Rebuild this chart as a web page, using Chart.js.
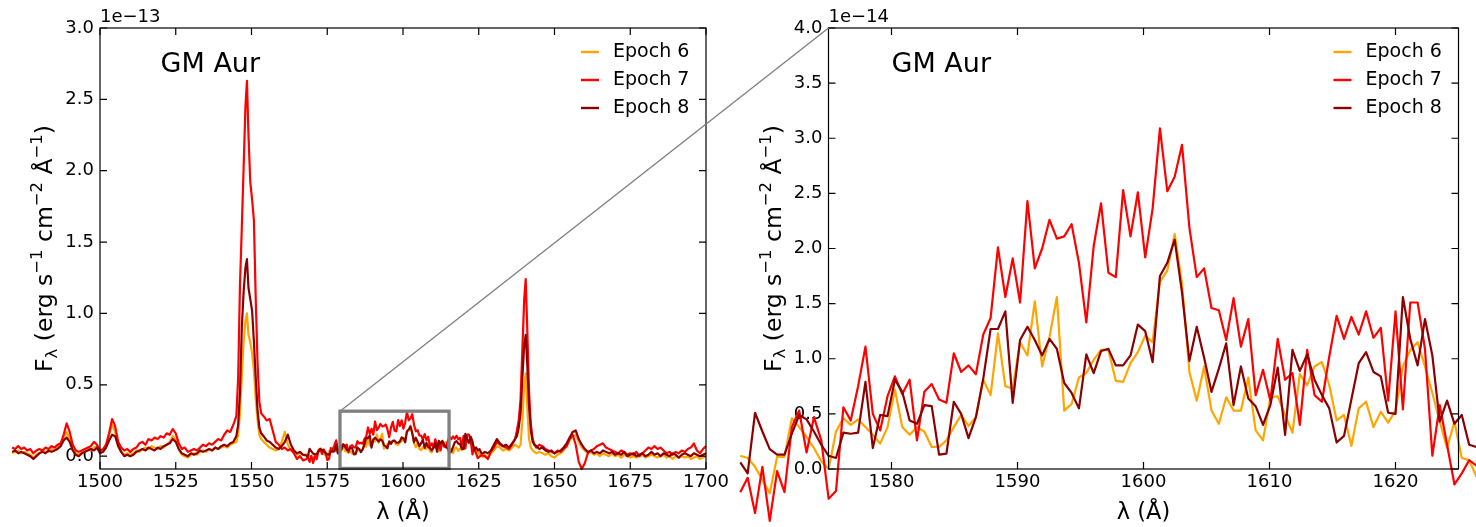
<!DOCTYPE html>
<html>
<head>
<meta charset="utf-8">
<script src="https://cdn.jsdelivr.net/npm/chart.js@4.4.0/dist/chart.umd.min.js"></script>
<style>
  html, body { margin: 0; padding: 0; background: #fff; }
  #wrap { position: relative; width: 1476px; height: 527px; overflow: hidden; }
  canvas { position: absolute; left: 0; top: 0; }
</style>
</head>
<body>
<div id="wrap">
  <canvas id="left" width="1476" height="527"></canvas>
  <canvas id="right" width="1476" height="527"></canvas>
  <canvas id="inset" width="1476" height="527"></canvas>
</div>
<script>
// ---- data -------------------------------------------------------------
const seriesNames = ['Epoch 6', 'Epoch 7', 'Epoch 8'];
const seriesColors = ['#ffa500', '#ff0000', '#8b0000'];

// zoomed window (right panel), flux in 1e-14
const zoomStart = 1568.0, zoomStep = 0.5843;
const zoomE6 = [0.12, 0.10, 0.02, -0.10, -0.22, 0.11, 0.11, 0.46, 0.38, 0.29,
  0.19, 0.07, 0.00, 0.34, 0.46, 0.40, 0.45, 0.38, 0.31, 0.23,
  0.38, 0.72, 0.38, 0.31, 0.38, 0.34, 0.20, 0.20, 0.26, 0.38,
  0.49, 0.39, 0.47, 0.81, 0.67, 1.23, 0.75, 0.73, 1.15, 1.03,
  1.52, 0.93, 1.20, 1.56, 0.53, 0.59, 0.83, 0.87, 0.99, 1.08,
  1.08, 0.80, 0.79, 0.96, 1.06, 1.21, 1.15, 1.70, 1.80, 2.13,
  1.68, 0.88, 0.62, 0.93, 0.53, 0.41, 0.65, 0.53, 0.53, 0.83,
  0.35, 0.26, 0.65, 0.66, 0.49, 0.33, 0.86, 0.76, 0.93, 0.97,
  0.76, 0.44, 0.49, 0.21, 0.55, 0.61, 0.38, 0.52, 0.42, 0.53,
  0.93, 1.08, 1.15, 0.93, 0.69, 0.43, 0.19, 0.43, 0.10, 0.08,
  -0.07];
const zoomE7 = [-0.21, -0.08, -0.40, 0.02, -0.47, -0.02, -0.21, 0.38, 0.53, 0.15,
  0.47, 0.26, -0.27, -0.20, 0.56, 0.44, 0.75, 1.11, 0.50, 0.35,
  0.66, 0.84, 0.68, 0.81, 0.26, 0.70, 0.77, 0.63, 0.60, 1.05,
  0.88, 0.94, 0.86, 1.22, 1.37, 2.01, 1.56, 1.91, 1.51, 2.43,
  1.82, 2.00, 2.26, 2.09, 2.11, 2.22, 1.87, 1.33, 2.02, 2.41,
  1.78, 1.74, 2.53, 2.11, 2.51, 1.92, 2.36, 3.09, 2.52, 2.65,
  2.94, 2.19, 1.74, 1.82, 1.46, 1.44, 1.17, 1.55, 1.11, 1.36,
  0.67, 0.90, 0.62, 1.18, 0.81, 0.87, 0.40, 1.08, 0.67, 0.61,
  1.02, 1.39, 1.18, 1.38, 1.22, 1.43, 1.19, 1.28, 0.62, 1.43,
  0.54, 1.51, 1.51, 1.09, 0.12, 0.58, 0.22, -0.14, -0.04, 0.08,
  0.03];
const zoomE8 = [0.06, -0.04, 0.51, 0.34, 0.18, 0.13, 0.13, 0.32, 0.49, 0.45,
  0.34, 0.22, 0.12, 0.10, 0.33, 0.32, 0.33, 0.79, 0.19, 0.49,
  0.48, 0.81, 0.70, 0.44, 0.41, 0.58, 0.57, 0.13, 0.14, 0.61,
  0.50, 0.28, 0.47, 0.82, 1.27, 1.27, 1.43, 0.60, 1.17, 1.29,
  1.17, 1.03, 1.18, 1.09, 0.78, 0.69, 0.55, 1.04, 0.87, 1.07,
  1.09, 0.94, 0.94, 1.03, 1.31, 1.25, 0.97, 1.75, 1.87, 2.08,
  1.60, 0.98, 1.29, 1.01, 0.70, 0.91, 1.14, 0.58, 0.93, 0.64,
  0.57, 0.40, 0.58, 0.92, 0.31, 1.08, 0.89, 1.04, 0.81, 0.67,
  0.55, 0.24, 0.30, 0.63, 0.96, 1.06, 0.88, 0.84, 0.51, 0.50,
  1.56, 1.18, 0.94, 1.36, 1.03, 0.43, 0.62, 0.41, 0.49, 0.22,
  0.20];

// blue side of the full spectrum (left panel), flux in 1e-13
const blueWave = [1471, 1472, 1473, 1474, 1475, 1476, 1477, 1478, 1479, 1480,
  1481, 1482, 1483, 1484, 1485, 1486, 1487, 1488, 1489, 1490,
  1491, 1492, 1493, 1494, 1495, 1496, 1497, 1498, 1499, 1500,
  1501, 1502, 1503, 1504, 1505, 1506, 1507, 1508, 1509, 1510,
  1511, 1512, 1513, 1514, 1515, 1516, 1517, 1518, 1519, 1520,
  1521, 1522, 1523, 1524, 1525, 1526, 1527, 1528, 1529, 1530,
  1531, 1532, 1533, 1534, 1535, 1536, 1537, 1538, 1539, 1540,
  1541, 1542, 1543, 1544, 1545,
  1545.6, 1546.2, 1546.8, 1547.4, 1548.0, 1548.5, 1549.0, 1549.6, 1550.2, 1550.8, 1551.4, 1552.0, 1552.6, 1553.2,
  1554, 1555, 1556, 1557, 1558, 1559, 1560, 1561, 1562, 1563, 1564, 1565, 1566, 1567];
const blueE6 = [0.02, 0.03, 0.04, 0.02, 0.03, 0.02, 0.01, -0.01, 0.01, 0.02,
  0.04, 0.03, 0.03, 0.05, 0.04, 0.06, 0.08, 0.13, 0.17, 0.12,
  0.05, 0.02, 0.01, 0.02, 0.04, 0.05, 0.04, 0.06, 0.07, 0.03,
  0.04, 0.08, 0.15, 0.22, 0.17, 0.08, 0.03, 0.01, 0.02, 0.01,
  0.02, 0.04, 0.03, 0.05, 0.06, 0.05, 0.07, 0.06, 0.05, 0.07,
  0.06, 0.08, 0.10, 0.14, 0.12, 0.05, 0.01, 0.00, -0.01, 0.01,
  0.02, 0.01, 0.03, 0.04, 0.03, 0.05, 0.04, 0.06, 0.05, 0.06,
  0.07, 0.06, 0.08, 0.09, 0.10,
  0.15, 0.30, 0.55, 0.80, 0.95, 1.00, 0.85, 0.80, 0.72, 0.60, 0.40, 0.25, 0.15, 0.12,
  0.10, 0.08, 0.06, 0.05, 0.04, 0.05, 0.10, 0.17, 0.08, 0.04, 0.03, 0.01, 0.02, 0.01];
const blueE7 = [0.06, 0.05, 0.07, 0.05, 0.06, 0.04, 0.05, 0.02, 0.04, 0.05,
  0.04, 0.06, 0.05, 0.07, 0.06, 0.08, 0.09, 0.15, 0.23, 0.17,
  0.08, 0.04, 0.03, 0.04, 0.05, 0.06, 0.07, 0.10, 0.08, 0.04,
  0.05, 0.08, 0.16, 0.26, 0.21, 0.10, 0.06, 0.04, 0.05, 0.03,
  0.05, 0.06, 0.09, 0.10, 0.08, 0.12, 0.11, 0.13, 0.12, 0.14,
  0.13, 0.16, 0.15, 0.19, 0.16, 0.09, 0.05, 0.06, 0.03, 0.04,
  0.05, 0.04, 0.06, 0.08, 0.07, 0.09, 0.08, 0.10, 0.12, 0.11,
  0.15, 0.18, 0.17, 0.22, 0.28,
  0.55, 1.20, 1.60, 2.02, 2.45, 2.63, 2.25, 1.92, 1.80, 1.65, 1.10, 0.65, 0.38, 0.30,
  0.28, 0.25, 0.26, 0.18, 0.10, 0.08, 0.05, 0.06, 0.04, 0.05, 0.02, -0.02, 0.00, -0.03];
const blueE8 = [0.03, 0.04, 0.02, 0.03, 0.02, 0.01, 0.00, -0.02, 0.00, 0.02,
  0.03, 0.02, 0.04, 0.03, 0.04, 0.05, 0.07, 0.11, 0.13, 0.10,
  0.04, 0.01, 0.00, 0.02, 0.03, 0.04, 0.05, 0.04, 0.06, 0.02,
  0.03, 0.06, 0.11, 0.15, 0.14, 0.07, 0.03, 0.00, 0.01, 0.00,
  0.01, 0.03, 0.04, 0.05, 0.04, 0.06, 0.05, 0.04, 0.06, 0.05,
  0.07, 0.08, 0.09, 0.12, 0.10, 0.05, 0.02, 0.01, 0.00, 0.02,
  0.01, 0.02, 0.04, 0.03, 0.04, 0.05, 0.04, 0.06, 0.05, 0.07,
  0.08, 0.07, 0.09, 0.10, 0.14,
  0.22, 0.45, 0.90, 1.15, 1.32, 1.38, 1.18, 1.10, 1.02, 0.80, 0.55, 0.32, 0.20, 0.16,
  0.14, 0.11, 0.10, 0.08, 0.06, 0.05, 0.07, 0.10, 0.15, 0.08, 0.04, 0.02, 0.03, 0.01];

// red side of the full spectrum (left panel), flux in 1e-13
const redWave = [1627, 1628, 1629, 1630, 1631, 1632, 1633, 1634, 1635, 1636, 1637,
  1637.6, 1638.2, 1638.8, 1639.4, 1640.0, 1640.5, 1641.0, 1641.6, 1642.2, 1642.8, 1643.4,
  1644, 1645, 1646, 1647, 1648, 1649, 1650, 1651, 1652, 1653,
  1654, 1655, 1656, 1657, 1658, 1659, 1660, 1661, 1662, 1663,
  1664, 1665, 1666, 1667, 1668, 1669, 1670, 1671, 1672, 1673,
  1674, 1675, 1676, 1677, 1678, 1679, 1680, 1681, 1682, 1683,
  1684, 1685, 1686, 1687, 1688, 1689, 1690, 1691, 1692, 1693,
  1694, 1695, 1696, 1697, 1698, 1699, 1700];
const redE6 = [0.01, -0.01, 0.02, 0.04, 0.07, 0.06, 0.04, 0.05, 0.04, 0.06, 0.08,
  0.07, 0.06, 0.08, 0.25, 0.50, 0.58, 0.35, 0.12, 0.06, 0.04, 0.03,
  0.02, 0.03, 0.02, 0.01, 0.02, 0.00, -0.01, 0.01, 0.02, 0.04,
  0.07, 0.11, 0.14, 0.15, 0.10, 0.06, 0.04, 0.02, 0.03, 0.01,
  0.02, 0.00, 0.02, 0.01, 0.00, 0.02, 0.00, 0.01, -0.01, 0.01,
  0.00, -0.01, 0.00, -0.01, 0.00, 0.01, -0.01, 0.00, 0.01, 0.00,
  -0.01, 0.00, 0.01, -0.01, 0.00, -0.02, 0.00, -0.01, 0.00, -0.01,
  0.00, -0.02, -0.01, 0.00, -0.02, -0.01, 0.00];
const redE7 = [0.00, -0.02, 0.03, 0.06, 0.10, 0.08, 0.07, 0.06, 0.05, 0.08, 0.12,
  0.18, 0.25, 0.40, 0.75, 1.10, 1.24, 0.90, 0.45, 0.22, 0.12, 0.08,
  0.06, 0.08, 0.07, 0.05, 0.04, 0.03, 0.02, 0.04, 0.03, 0.05,
  0.07, 0.12, 0.15, 0.08, -0.04, -0.09, -0.05, 0.02, 0.04, 0.05,
  0.07, 0.08, 0.09, 0.06, 0.05, 0.04, 0.03, 0.02, 0.04, 0.03,
  0.01, 0.02, 0.01, 0.03, 0.00, 0.02, 0.04, 0.06, 0.05, 0.07,
  0.05, 0.06, 0.04, 0.02, 0.03, 0.01, 0.03, 0.02, 0.04, 0.03,
  0.05, 0.06, 0.09, 0.04, 0.02, 0.05, 0.07];
const redE8 = [0.03, 0.02, 0.04, 0.08, 0.12, 0.09, 0.07, 0.08, 0.06, 0.09, 0.12,
  0.14, 0.20, 0.30, 0.55, 0.78, 0.85, 0.65, 0.35, 0.18, 0.10, 0.08,
  0.07, 0.05, 0.06, 0.04, 0.03, 0.04, 0.02, 0.03, 0.04, 0.06,
  0.09, 0.13, 0.17, 0.18, 0.12, 0.08, 0.05, 0.03, 0.04, 0.02,
  0.03, 0.02, 0.04, 0.03, 0.02, 0.03, 0.01, 0.02, 0.01, 0.03,
  0.00, 0.01, 0.02, 0.00, 0.01, 0.02, 0.00, 0.01, 0.03, 0.01,
  0.02, 0.00, 0.02, 0.01, 0.00, 0.02, 0.01, -0.01, 0.01, 0.02,
  0.01, 0.00, 0.02, 0.01, 0.00, 0.01, 0.02];

// axes
const leftXRange = [1500, 1700], leftYRange = [-0.09, 3.0];
const leftXTicks = [1500, 1525, 1550, 1575, 1600, 1625, 1650, 1675, 1700];
const leftYTicks = [0.0, 0.5, 1.0, 1.5, 2.0, 2.5, 3.0];
const rightXRange = [1575, 1625], rightYRange = [0.0, 4.0];
const rightXTicks = [1580, 1590, 1600, 1610, 1620];
const rightYTicks = [0.0, 0.5, 1.0, 1.5, 2.0, 2.5, 3.0, 3.5, 4.0];
const insetBox = [1579.2, 1615.2, -0.086, 0.315]; // x0, x1, y0, y1 in left-panel units

// ---- helpers ------------------------------------------------------------
const FONT = 'DejaVu Sans';
Chart.defaults.font.family = FONT;
Chart.defaults.color = '#000';

const zoomWave = zoomE6.map((_, i) => +(zoomStart + i * zoomStep).toFixed(3));
const pts = (wave, vals, f) => wave.map((w, i) => ({x: w, y: vals[i] * f}));
const zoomSets = [zoomE6, zoomE7, zoomE8];
const blueSets = [blueE6, blueE7, blueE8];
const redSets = [redE6, redE7, redE8];

const leftData = seriesNames.map((_, k) => [
  ...pts(blueWave, blueSets[k], 1),
  ...pts(zoomWave, zoomSets[k], 0.1),
  ...pts(redWave, redSets[k], 1)
]);
const rightData = seriesNames.map((_, k) => pts(zoomWave, zoomSets[k], 1));

function drawYTitle(ctx, cx, cy) {
  const size = 23.5, small = size * 0.7;
  const parts = [['F', 0, 0], ['\u03bb', 1, 0.2], [' (erg s', 0, 0], ['\u22121', 1, -0.42],
    [' cm', 0, 0], ['\u22122', 1, -0.42], [' \u00c5', 0, 0], ['\u22121', 1, -0.42], [')', 0, 0]];
  const fontOf = s => (s ? small : size) + 'px "' + FONT + '"';
  let total = 0;
  const widths = parts.map(p => { ctx.font = fontOf(p[1]); const w = ctx.measureText(p[0]).width; total += w; return w; });
  ctx.save();
  ctx.translate(cx, cy);
  ctx.rotate(-Math.PI / 2);
  ctx.textBaseline = 'alphabetic';
  ctx.textAlign = 'left';
  let x = -total / 2;
  parts.forEach((p, i) => {
    ctx.font = fontOf(p[1]);
    ctx.fillText(p[0], x, p[2] * size);
    x += widths[i];
  });
  ctx.restore();
}

const panelDecor = {
  id: 'panelDecor',
  afterDatasetsDraw(chart, args, o) {
    const {ctx, chartArea: a, scales: {x, y}} = chart;
    const w = a.right - a.left, h = a.bottom - a.top;
    ctx.save();
    if (o.box) {
      const x0 = x.getPixelForValue(o.box[0]), x1 = x.getPixelForValue(o.box[1]);
      const y0 = y.getPixelForValue(o.box[2]), y1 = y.getPixelForValue(o.box[3]);
      ctx.strokeStyle = '#808080';
      ctx.lineWidth = 3.3;
      ctx.strokeRect(x0, y1, x1 - x0, y0 - y1);
    }
    // frame and inward ticks
    ctx.strokeStyle = '#000';
    ctx.lineWidth = 1.2;
    ctx.strokeRect(a.left, a.top, w, h);
    ctx.beginPath();
    x.ticks.forEach(t => {
      const px = x.getPixelForValue(t.value);
      ctx.moveTo(px, a.bottom); ctx.lineTo(px, a.bottom - 7);
      ctx.moveTo(px, a.top); ctx.lineTo(px, a.top + 7);
    });
    y.ticks.forEach(t => {
      const py = y.getPixelForValue(t.value);
      ctx.moveTo(a.left, py); ctx.lineTo(a.left + 7, py);
      ctx.moveTo(a.right, py); ctx.lineTo(a.right - 7, py);
    });
    ctx.stroke();

    ctx.fillStyle = '#000';
    ctx.textAlign = 'left';
    ctx.textBaseline = 'alphabetic';
    ctx.font = '18px "' + FONT + '"';
    ctx.fillText(o.offset, a.left, a.top - 6);

    ctx.font = '27px "' + FONT + '"';
    ctx.fillText('GM Aur', a.left + 0.1 * w, a.bottom - 0.9 * h);

    // legend
    ctx.font = '19px "' + FONT + '"';
    ctx.textBaseline = 'middle';
    chart.data.datasets.forEach((ds, k) => {
      const ly = a.top + 24 + 28 * k;
      ctx.strokeStyle = ds.borderColor;
      ctx.lineWidth = 2.4;
      ctx.beginPath();
      ctx.moveTo(a.right - 125, ly); ctx.lineTo(a.right - 107, ly);
      ctx.stroke();
      ctx.fillText(ds.label, a.right - 93, ly);
    });

    // axis titles
    ctx.textAlign = 'center';
    ctx.textBaseline = 'alphabetic';
    ctx.font = '22.5px "' + FONT + '"';
    ctx.fillText('\u03bb (\u00c5)', a.left + w / 2, 519);
    drawYTitle(ctx, a.left - 48, a.top + h / 2);
    ctx.restore();
  }
};

function makeChart(id, cfg) {
  return new Chart(document.getElementById(id), {
    type: 'line',
    data: {
      datasets: seriesNames.map((name, k) => ({
        label: name,
        data: cfg.data[k],
        borderColor: seriesColors[k],
        borderWidth: 2.2,
        borderJoinStyle: 'round',
        pointRadius: 0,
        tension: 0,
        clip: false,
        order: 3 - k
      }))
    },
    options: {
      responsive: false,
      animation: false,
      devicePixelRatio: 1,
      events: [],
      layout: {padding: cfg.padding},
      plugins: {
        legend: {display: false},
        tooltip: {enabled: false},
        panelDecor: {offset: cfg.offset, box: cfg.box}
      },
      scales: {
        x: {
          type: 'linear',
          bounds: 'data',
          grid: {display: false, drawTicks: false},
          border: {display: false},
          afterDataLimits: s => { s.min = cfg.xRange[0]; s.max = cfg.xRange[1]; },
          afterBuildTicks: s => { s.ticks = cfg.xTicks.map(v => ({value: v})); },
          afterFit: s => { s.height = 58; },
          ticks: {font: {size: 18}, color: '#000', padding: 3, maxRotation: 0, autoSkip: false,
            callback: v => String(v)}
        },
        y: {
          type: 'linear',
          bounds: 'data',
          grid: {display: false, drawTicks: false},
          border: {display: false},
          afterDataLimits: s => { s.min = cfg.yRange[0]; s.max = cfg.yRange[1]; },
          afterBuildTicks: s => { s.ticks = cfg.yTicks.map(v => ({value: v})); },
          afterFit: s => { s.width = cfg.yWidth; },
          ticks: {font: {size: 18}, color: '#000', padding: 6, autoSkip: false,
            callback: v => v.toFixed(1)}
        }
      }
    },
    plugins: [panelDecor]
  });
}

const leftChart = makeChart('left', {
  data: leftData, xRange: leftXRange, yRange: leftYRange, xTicks: leftXTicks, yTicks: leftYTicks,
  padding: {left: 0, top: 28, right: 770, bottom: 0}, yWidth: 100,
  offset: '1e\u221213', box: insetBox
});
const rightChart = makeChart('right', {
  data: rightData, xRange: rightXRange, yRange: rightYRange, xTicks: rightXTicks, yTicks: rightYTicks,
  padding: {left: 720, top: 28, right: 17.5, bottom: 0}, yWidth: 108.5,
  offset: '1e\u221214', box: null
});

// connector from the inset box to the zoomed panel
const ictx = document.getElementById('inset').getContext('2d');
const cx0 = leftChart.scales.x.getPixelForValue(insetBox[0]);
const cy0 = leftChart.scales.y.getPixelForValue(insetBox[3]);
ictx.strokeStyle = '#808080';
ictx.lineWidth = 1.4;
ictx.beginPath();
ictx.moveTo(cx0, cy0);
ictx.lineTo(rightChart.chartArea.left, rightChart.chartArea.top);
ictx.stroke();
</script>
</body>
</html>
